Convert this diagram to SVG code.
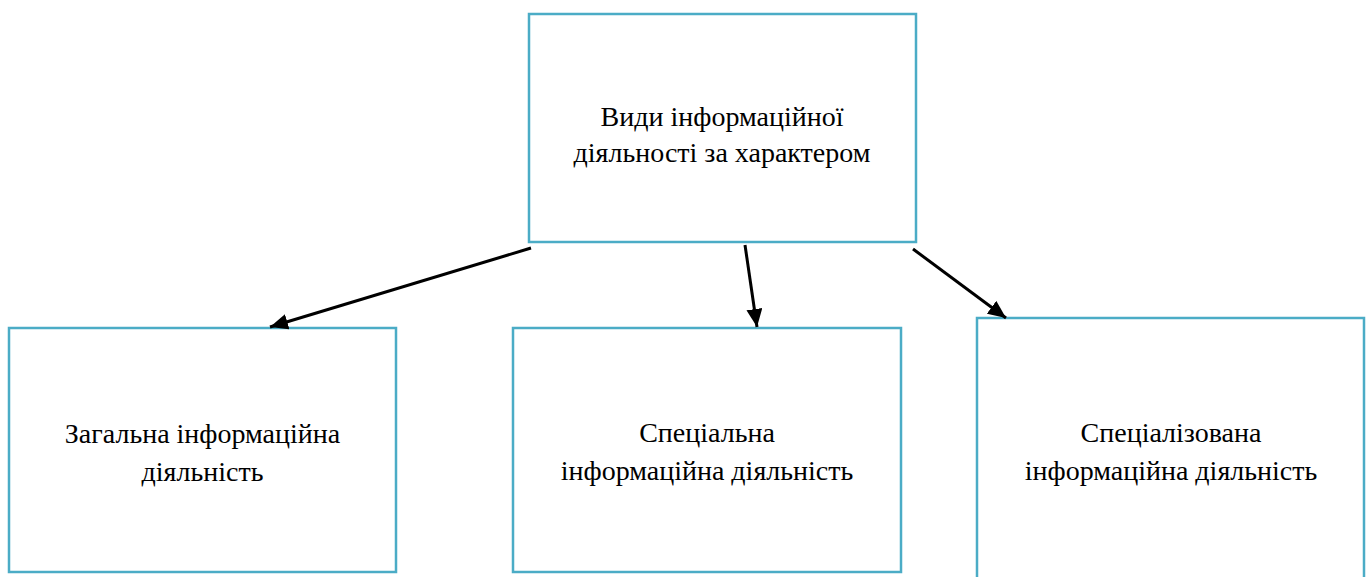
<svg xmlns="http://www.w3.org/2000/svg" width="1367" height="577" viewBox="0 0 1367 577">
<style>
.box{fill:#fff;stroke:#4BACC6;stroke-width:2.5}
.c{stroke:#000;stroke-width:3;fill:none;marker-end:url(#ah)}
</style>
<defs>
<marker id="ah" markerUnits="userSpaceOnUse" markerWidth="20" markerHeight="16" refX="18" refY="8" orient="auto">
<path d="M0,0 L18,8 L0,16 Z" fill="#000"/>
</marker>
</defs>
<rect width="1367" height="577" fill="#fff"/>
<g id="top">
<rect class="box" x="529" y="14" width="387" height="228"/>
<text x="722" y="126" text-anchor="middle" fill="#000"><tspan font-family="Liberation Serif" font-size="28">Види інформаційної</tspan></text>
<text x="722" y="162" text-anchor="middle" fill="#000"><tspan font-family="Liberation Serif" font-size="28">діяльності за характером</tspan></text>
</g>
<g id="general">
<rect class="box" x="9" y="328" width="387" height="244"/>
<text x="202.5" y="443" text-anchor="middle" fill="#000"><tspan font-family="Liberation Serif" font-size="28">Загальна інформаційна</tspan></text>
<text x="202.5" y="481" text-anchor="middle" fill="#000"><tspan font-family="Liberation Serif" font-size="28">діяльність</tspan></text>
</g>
<g id="special">
<rect class="box" x="513" y="328" width="388" height="244"/>
<text x="707" y="442" text-anchor="middle" fill="#000"><tspan font-family="Liberation Serif" font-size="28">Спеціальна</tspan></text>
<text x="707" y="480" text-anchor="middle" fill="#000"><tspan font-family="Liberation Serif" font-size="28">інформаційна діяльність</tspan></text>
</g>
<g id="specialized">
<rect class="box" x="977" y="318" width="387" height="270"/>
<text x="1171" y="442" text-anchor="middle" fill="#000"><tspan font-family="Liberation Serif" font-size="28">Спеціалізована</tspan></text>
<text x="1171" y="480" text-anchor="middle" fill="#000"><tspan font-family="Liberation Serif" font-size="28">інформаційна діяльність</tspan></text>
</g>
<g id="connectors">
<line class="c" x1="531" y1="248" x2="270" y2="327"/>
<line class="c" x1="745" y1="245" x2="757" y2="327"/>
<line class="c" x1="913" y1="249" x2="1006" y2="318"/>
</g>
</svg>
